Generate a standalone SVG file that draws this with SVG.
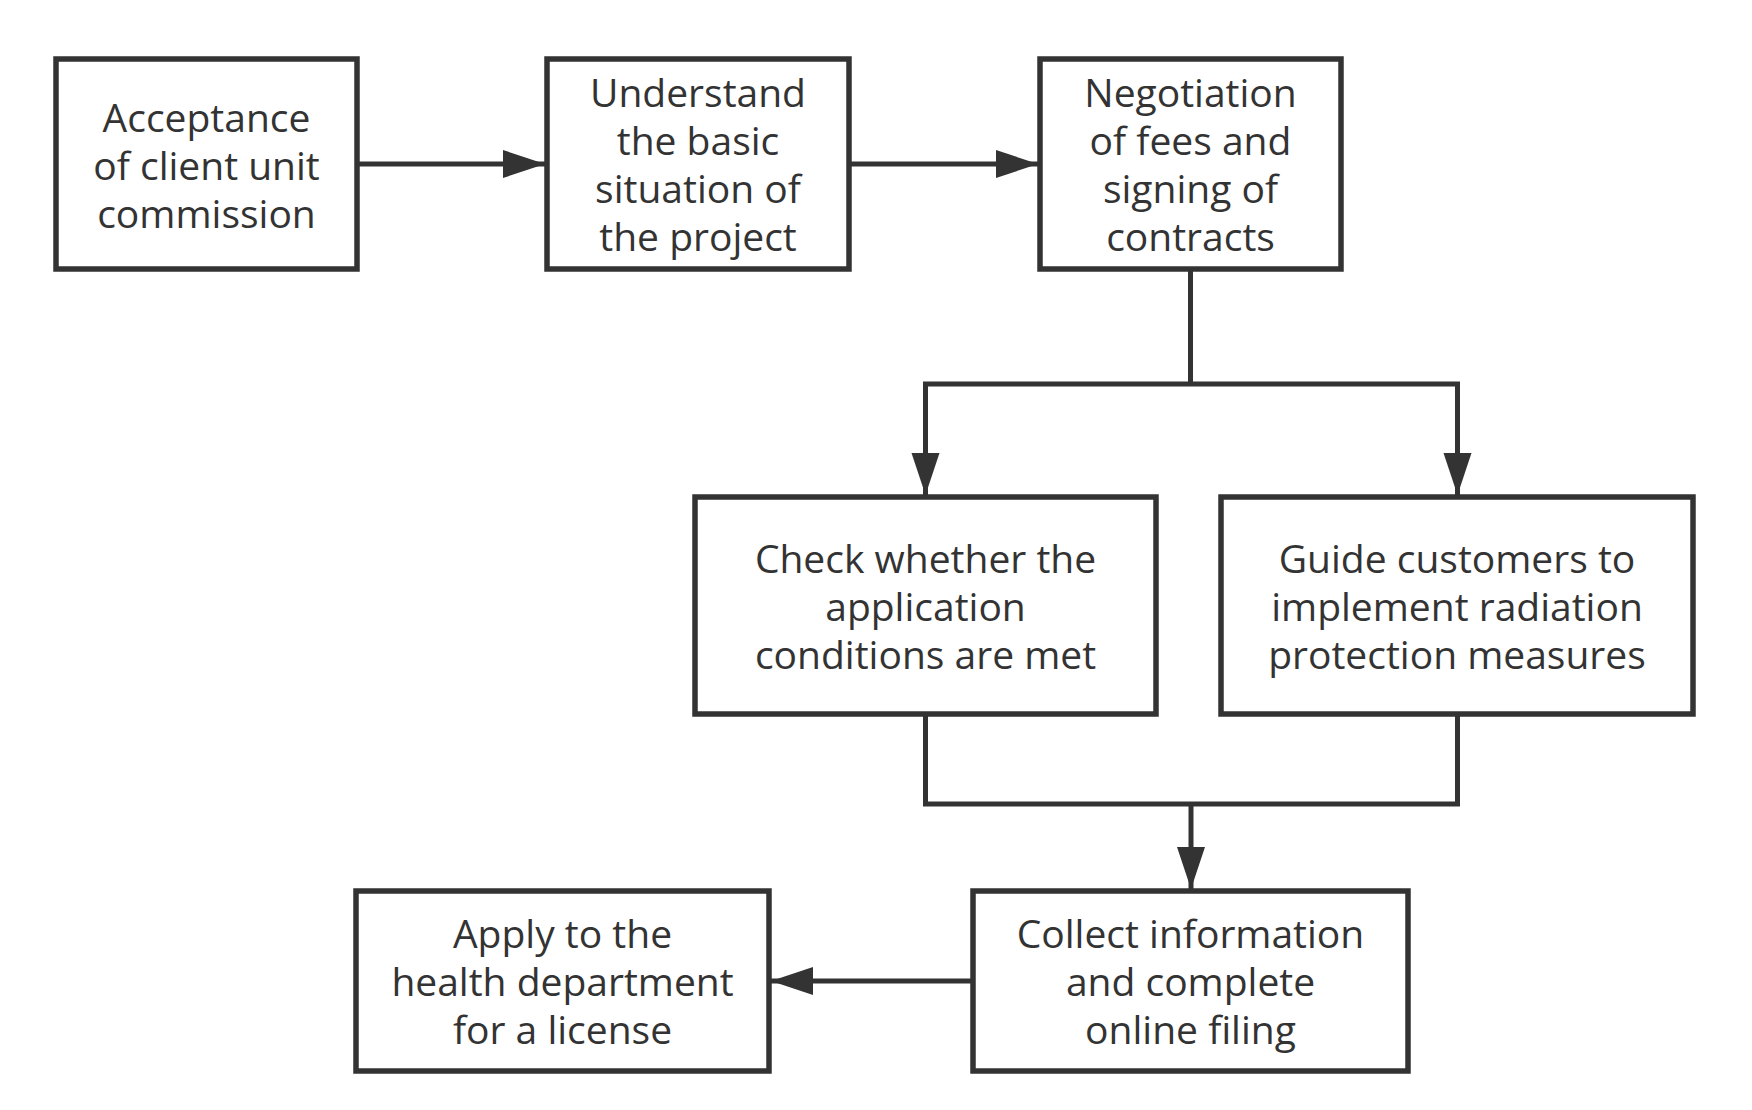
<svg xmlns="http://www.w3.org/2000/svg" width="1752" height="1110" viewBox="0 0 1752 1110">
<style>
.box{fill:#fff;stroke:#333;stroke-width:5.5}
.lbl{font-family:"Open Sans","Noto Sans",sans-serif;font-size:39px;fill:#333;text-anchor:middle}
.con{fill:none;stroke:#333;stroke-width:5}
</style>
<defs>
<marker id="arr" markerUnits="userSpaceOnUse" markerWidth="44" markerHeight="30" refX="42" refY="14" orient="auto">
<path d="M0,0 L42,14 L0,28 z" fill="#333"/>
</marker>
</defs>
<rect width="1752" height="1110" fill="#fff"/>
<g id="connectors">
<path class="con" d="M357,164 H545" marker-end="url(#arr)"/>
<path class="con" d="M849,164 H1038" marker-end="url(#arr)"/>
<path class="con" d="M1190.5,269 V384"/>
<path class="con" d="M925.5,495 V384 H1457.5 V495" marker-end="url(#arr)"/>
<path class="con" d="M925.5,384 V495" marker-end="url(#arr)"/>
<path class="con" d="M925.5,714 V804 H1457.5 V714"/>
<path class="con" d="M1191,804 V889" marker-end="url(#arr)"/>
<path class="con" d="M973,981 H771" marker-end="url(#arr)"/>
</g>
<g id="n1">
<rect class="box" x="56" y="59" width="301" height="210"/>
<text class="lbl" x="206.5" y="132">Acceptance</text>
<text class="lbl" x="206.5" y="180">of client unit</text>
<text class="lbl" x="206.5" y="228">commission</text>
</g>
<g id="n2">
<rect class="box" x="547" y="59" width="302" height="210"/>
<text class="lbl" x="698" y="107">Understand</text>
<text class="lbl" x="698" y="155">the basic</text>
<text class="lbl" x="698" y="203">situation of</text>
<text class="lbl" x="698" y="251">the project</text>
</g>
<g id="n3">
<rect class="box" x="1040" y="59" width="301" height="210"/>
<text class="lbl" x="1190.5" y="107">Negotiation</text>
<text class="lbl" x="1190.5" y="155">of fees and</text>
<text class="lbl" x="1190.5" y="203">signing of</text>
<text class="lbl" x="1190.5" y="251">contracts</text>
</g>
<g id="n4">
<rect class="box" x="695" y="497" width="461" height="217"/>
<text class="lbl" x="925.5" y="573">Check whether the</text>
<text class="lbl" x="925.5" y="621">application</text>
<text class="lbl" x="925.5" y="669">conditions are met</text>
</g>
<g id="n5">
<rect class="box" x="1221" y="497" width="472" height="217"/>
<text class="lbl" x="1457" y="573">Guide customers to</text>
<text class="lbl" x="1457" y="621">implement radiation</text>
<text class="lbl" x="1457" y="669">protection measures</text>
</g>
<g id="n6">
<rect class="box" x="973" y="891" width="435" height="180"/>
<text class="lbl" x="1190.5" y="948">Collect information</text>
<text class="lbl" x="1190.5" y="996">and complete</text>
<text class="lbl" x="1190.5" y="1044">online filing</text>
</g>
<g id="n7">
<rect class="box" x="356" y="891" width="413" height="180"/>
<text class="lbl" x="562.5" y="948">Apply to the</text>
<text class="lbl" x="562.5" y="996">health department</text>
<text class="lbl" x="562.5" y="1044">for a license</text>
</g>
</svg>
